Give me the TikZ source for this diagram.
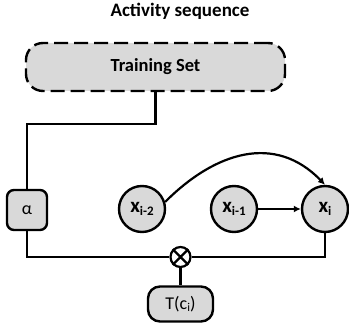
\documentclass[tikz,border=0pt]{standalone}
\usepackage{fontspec}
\setmainfont{Carlito}
\usetikzlibrary{arrows.meta,calc}
\newcommand{\xsub}[2]{{\fontsize{21}{21}\selectfont\bfseries #1}\raisebox{-3pt}{\fontsize{13}{13}\selectfont\bfseries #2}}
\begin{document}
\begin{tikzpicture}[x=1pt,y=1pt,
  gfill/.style={fill=black!15},
  ln/.style={line width=2.2pt},
  vnode/.style={circle,draw,line width=2.4pt,gfill,minimum size=46pt,inner sep=0pt},
  rbox/.style={rectangle,draw,line width=2.4pt,gfill,inner sep=0pt},
  arr/.style={ln,-{Latex[length=7pt,width=7pt]}}]
\useasboundingbox (0,0) rectangle (349,324);
\node (title) at (180,313) {\fontsize{19}{19}\selectfont\bfseries Activity sequence};
\node[rbox,dash pattern=on 14pt off 6pt,minimum width=259pt,minimum height=48pt,rounded corners=17pt] (train) at (155.5,257) {\fontsize{18.5}{18.5}\selectfont\bfseries Training Set};
\node[rbox,minimum width=40pt,minimum height=40pt,rounded corners=7pt] (alpha) at (27,114) {\fontsize{18}{18}\selectfont α};
\node[vnode] (xi2) at (142,115) {\xsub{x}{i-2}};
\node[vnode] (xi1) at (234,115) {\xsub{x}{i-1}};
\node[vnode] (xi) at (325,115) {\xsub{x}{i}};
\node[circle,draw,ln,fill=white,minimum size=20pt,inner sep=0pt] (ot) at (180.5,67) {};
\draw[ln] (ot.north east) -- (ot.south west) (ot.north west) -- (ot.south east);
\node[rbox,minimum width=65pt,minimum height=35pt,rounded corners=12pt] (T) at (180.5,20) {\fontsize{18}{18}\selectfont T(c\raisebox{-2pt}{\fontsize{12}{12}\selectfont i})};
\coordinate (bend) at (155.5,200);
\draw[ln] (train.south) -- (bend) -| (alpha.north);
\draw[ln] (alpha.south) |- (ot.west);
\draw[ln] (ot.east) -| (xi.south);
\draw[ln] (ot.south) -- (T.north);
\draw[arr] (xi1) -- (xi);
\draw[arr] (xi2.17) .. controls (215,172) and (275,191) .. (xi.north);
\end{tikzpicture}
\end{document}
